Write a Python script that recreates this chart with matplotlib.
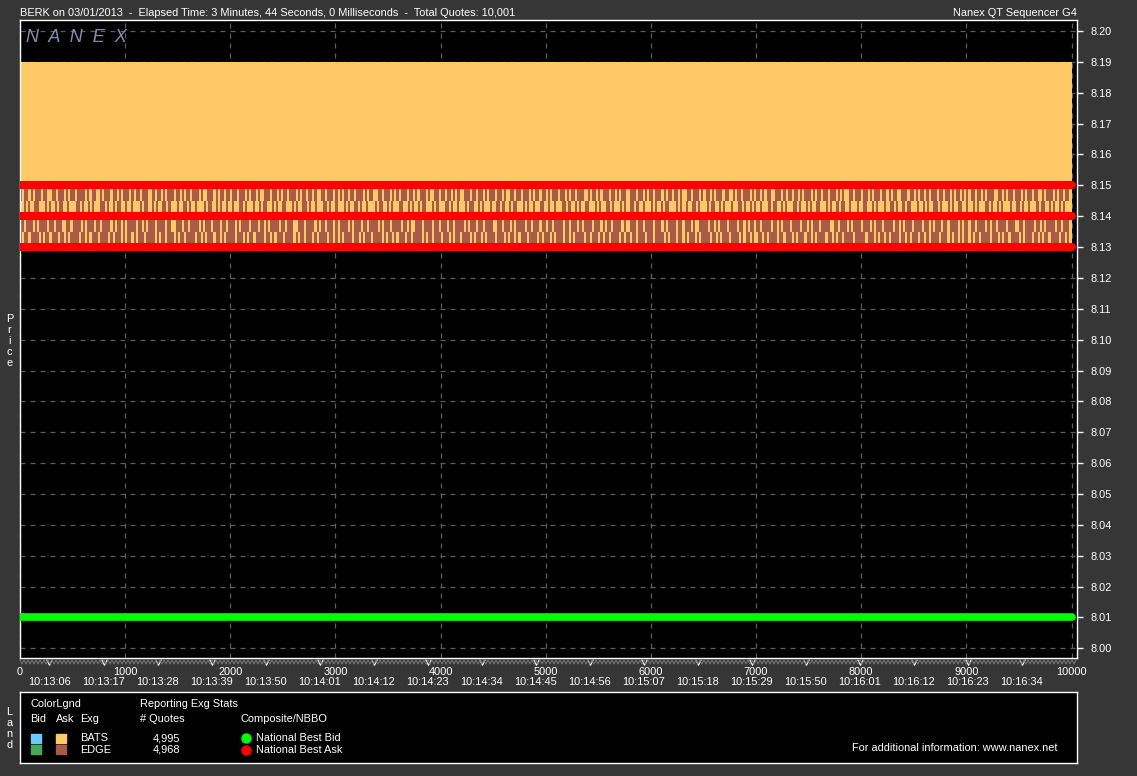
import numpy as np
import matplotlib
matplotlib.use("Agg")
import matplotlib.pyplot as plt
from matplotlib.lines import Line2D
from matplotlib.patches import Rectangle
from matplotlib.path import Path

plt.rcParams['font.family'] = ['Liberation Sans', 'DejaVu Sans']

W, H = 1137, 776
FS = 7.9

# ---- data ----
n_quotes = 10000
price_ticks = [8.00, 8.01, 8.02, 8.03, 8.04, 8.05, 8.06, 8.07, 8.08, 8.09, 8.10,
               8.11, 8.12, 8.13, 8.14, 8.15, 8.16, 8.17, 8.18, 8.19, 8.20]
quote_ticks = [0, 1000, 2000, 3000, 4000, 5000, 6000, 7000, 8000, 9000, 10000]
time_pos = [280, 795, 1308, 1822, 2335, 2849, 3362, 3876, 4390, 4903,
            5417, 5930, 6444, 6957, 7471, 7984, 8498, 9011, 9525]
time_labels = ["10:13:06", "10:13:17", "10:13:28", "10:13:39", "10:13:50",
               "10:14:01", "10:14:12", "10:14:23", "10:14:34", "10:14:45",
               "10:14:56", "10:15:07", "10:15:18", "10:15:29", "10:15:50",
               "10:16:01", "10:16:12", "10:16:23", "10:16:34"]

nbbo_bid = 8.01
nbbo_ask_levels = [8.15, 8.14, 8.13]
bats_ask_band = (8.15, 8.19)

# which exchange shows on top in each thin price row ('#' = BATS ask, '.' = EDGE ask)
row_a = (
    ".#..#.#...#..##..#...#.#..#....#.#..##.#...#..#.#."
    "..#.#..#...##.#..#.#...#..#.#..#...#.##...#.#..#.."
    "#..#...#.#..#.##...#..#.#..#...#.#..#..#.##..#...#"
    ".#.#..#..#...#.#..##..#...#.#.#...#..#.#...#.##..#"
    "..#..#.#.##...#..#..#.#...#..#.##..#..#...#.#..#.."
    "#.#...#..#.#..#...##.#..#.#...#..#.#..##...#..#.#."
    ".#...#.#..#..#.##..#...#.#..#.#...#..##.#..#...#.#"
    "..#.#..##...#.#..#..#.#...#.#..#..#...#.#.##..#..."
    "#..#.#...#..#.#..##...#..#.#..#.#...#..#..#.#..#.#"
    ".#..#..#.#...##..#.#..#...#.#..#..##.#...#.#..#..#"
)
row_b = (
    "##.#.##..###.#.##.#..##.###..#.##.#.###..#.##.#..##"
    ".##.###.#..##.#.##..#.###.##..#.##.###.#..##.#.##.#"
    "#.##..#.###.##.#..##.#.##..###.#.##..#.##.###..#.##"
    ".###.#.##..#.##.###.#..##.#.###..##.#.##.#..###.#.#"
    "##..#.##.###.#..##.#.###.##..#.##.#..###.#.##.##..#"
    "#.##.###..#.##.#.##..###.#.##..#.###.#.##..#.##.###"
    ".#.##.#..###.#.##.##..#.###.#..##.#.###.##..#.##.#."
    "##.###.#..##.#.###..#.##.#.##..###.#.##.#..##.###.#"
    "#..##.#.###.##..#.##.#..###.##.#.##..#.###.#.##..##"
    ".##.#.###..#.##.#.###.##..#.##.###.#..##.#.##.#.###"
)
row_c = (
    "..#...#.#....#..#...##..#....#.#...#..#....#.#..#."
    "#....#..#.#...#....#..##...#..#....#.#...#...#..#."
    "..#.#....#...#..#.#....#..#...##...#....#.#..#...#"
    ".#....#.#...#..#....#.#...#....#..#.##...#....#..#"
    "...#..#....#.#...#..#....##..#...#.#....#..#...#.."
    "#..#....#..#...#.#....#...#.#..#....#.##...#..#..."
    ".#...#.#....#..#...#.##....#..#.#...#....#..#.#..#"
    "..#....#..#.#...#....#..#.#...#....##..#...#.#...."
    "#...#.#...#....#..#.#...#....#..#.#...#..#....#.#."
    ".#..#....#.#..#....#...##..#....#..#.#....#..#...#"
)
row_d = (
    ".#..#....#.#..#...#..#.#....#..#.#...#....#.#...#."
    "#..#.#...#....#.#..#...#.#..#....#..#.#...#..#.#.."
    "..#...#.#..#....#..#.#...#....#.#..#...#.#....#..#"
    ".#.#....#..#.#...#....#.#..#.#...#..#....#.#..#..."
    "#...#.#..#....#.#..#.#....#...#.#..#.#...#....#.#."
    "..#.#...#..#.#....#..#...#.#..#....#.#..#..#...#.."
    ".#....#.#...#..#.#...#.#....#..#.#...#....#.#..#.#"
    "#..#.#....#..#...#.#...#..#.#....#..#.#..#....#..."
    "..#...#.#..#.#....#..#.#...#..#.#....#...#.#..#.#."
    ".#.#..#....#...#.#..#....#.#...#..#.#..#....#..#.#"
)
stripe_rows = [(8.145, 8.150, row_a), (8.140, 8.145, row_b),
               (8.135, 8.140, row_c), (8.130, 8.135, row_d)]

exchanges = ["BATS", "EDGE"]
quote_counts = ["4,995", "4,968"]
bid_colors = ["#66ccff", "#44aa55"]
ask_colors = ["#ffc966", "#aa5a48"]
nbbo_names = ["National Best Bid", "National Best Ask"]
nbbo_colors = ["#00ff00", "#ff0000"]

# ---- figure ----
bg = "#363636"
fig = plt.figure(figsize=(W / 100, H / 100), dpi=100, facecolor=bg)


def fx(x):
    return x / W


def fy(y):
    return 1 - y / H


ax = fig.add_axes([fx(20), fy(658), 1057 / W, 638 / H])
ax.set_facecolor("black")
ax.set_xlim(0, 10052)
ax.set_ylim(7.99686, 8.20356)
ax.set_axisbelow(True)
ax.grid(True, color="#5e5e5e", linestyle=(0, (4, 4)), linewidth=0.9)
for s in ax.spines.values():
    s.set_color("white")
    s.set_linewidth(1)

# BATS ask block
ax.fill_between([0, n_quotes], *bats_ask_band, color=ask_colors[0], lw=0)

# alternating BATS / EDGE rows
for y0, y1, pattern in stripe_rows:
    w = n_quotes / len(pattern)
    ax.fill_between([0, n_quotes], y0, y1, color=ask_colors[1], lw=0)
    idx = np.array([i for i, c in enumerate(pattern) if c == "#"])
    ax.bar(idx * w, y1 - y0, width=w, bottom=y0, align="edge",
           color=ask_colors[0], linewidth=0, antialiased=False)

# NBBO
for p in nbbo_ask_levels:
    ax.plot([0, n_quotes], [p, p], color=nbbo_colors[1], lw=5.8,
            solid_capstyle="round", zorder=3)
ax.plot([0, n_quotes], [nbbo_bid, nbbo_bid], color=nbbo_colors[0], lw=5.5,
        solid_capstyle="round", zorder=3)

ax.yaxis.tick_right()
ax.set_yticks(price_ticks)
ax.set_yticklabels([f"{v:.2f}" for v in price_ticks])
ax.tick_params(axis="y", colors="white", labelcolor="white", length=4,
               width=1, pad=6, labelsize=FS)
ax.set_xticks(quote_ticks)
ax.set_xticklabels([str(q) for q in quote_ticks])
ax.tick_params(axis="x", length=0, labelcolor="white", pad=6.3, labelsize=FS)

for q, lab in zip(time_pos, time_labels):
    ax.annotate(lab, xy=(q, 0), xycoords=("data", "axes fraction"),
                xytext=(0, -17.2), textcoords="offset points",
                ha="center", va="center", color="white", fontsize=FS,
                annotation_clip=False)

# zigzag strip under the axis
zx = np.arange(20, 1077, 2.0)
zy = np.where(np.arange(len(zx)) % 2 == 0, 660, 664)
fig.add_artist(Line2D(fx(zx), fy(zy), transform=fig.transFigure,
                      color="#7a7a7a", lw=0.7))
vmark = Path([(-1, 1), (0, -1), (1, 1)])
ax.plot(time_pos, [7.99686 - 4 / 3088] * len(time_pos), linestyle="none",
        marker=vmark, markersize=4, markerfacecolor="none",
        markeredgecolor="white", markeredgewidth=0.8, clip_on=False)

# titles
fig.text(fx(20), fy(12.5), "BERK on 03/01/2013  -  Elapsed Time: 3 Minutes, 44 Seconds, "
         "0 Milliseconds  -  Total Quotes: 10,001", ha="left", va="center",
         color="white", fontsize=FS)
fig.text(fx(1077), fy(12.5), "Nanex QT Sequencer G4", ha="right", va="center",
         color="white", fontsize=FS)
fig.text(fx(26), fy(38), "N  A  N  E  X", ha="left", va="center",
         color="#8a8aac", fontsize=13, style="italic")

for i, ch in enumerate("Price"):
    fig.text(fx(9.5), fy(319 + i * 11), ch, ha="center", va="center",
             color="white", fontsize=FS)
for i, ch in enumerate("Land"):
    fig.text(fx(9.5), fy(712 + i * 11), ch, ha="center", va="center",
             color="white", fontsize=FS)

# legend box
lax = fig.add_axes([fx(20), fy(763), 1057 / W, 71 / H])
lax.set_facecolor("black")
lax.set_xlim(20, 1077)
lax.set_ylim(763, 692)
lax.set_xticks([])
lax.set_yticks([])
for s in lax.spines.values():
    s.set_color("white")
    s.set_linewidth(1)

kw = dict(color="white", fontsize=FS, va="center")
lax.text(30.5, 704, "ColorLgnd", **kw)
lax.text(30.5, 719, "Bid", **kw)
lax.text(56, 719, "Ask", **kw)
lax.text(80.5, 719, "Exg", **kw)
lax.text(140.5, 704, "Reporting Exg Stats", **kw)
lax.text(140.5, 719, "# Quotes", **kw)
lax.text(240.5, 719, "Composite/NBBO", **kw)
for i in range(2):
    yy = 738 + i * 11.5
    lax.add_patch(Rectangle((31, yy - 4.5), 10, 9, color=bid_colors[i]))
    lax.add_patch(Rectangle((56, yy - 4.5), 10, 9, color=ask_colors[i]))
    lax.text(80.5, yy, exchanges[i], **kw)
    lax.text(180, yy, quote_counts[i], ha="right", color="white",
             fontsize=FS, va="center")
    lax.plot(245.7, yy, "o", ms=6.5, color=nbbo_colors[i])
    lax.text(255.5, yy, nbbo_names[i], **kw)
lax.text(1057, 748, "For additional information: www.nanex.net", ha="right", **kw)

fig.savefig("out.png", dpi=100, facecolor=bg)
